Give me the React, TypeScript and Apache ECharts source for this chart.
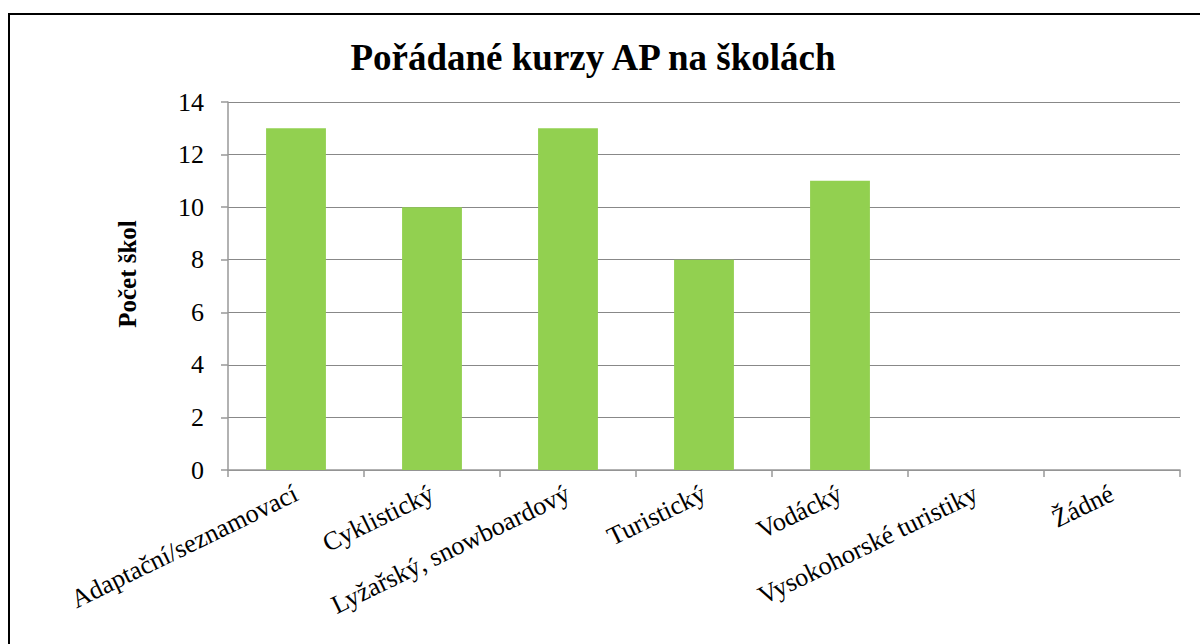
import React, { useEffect, useRef } from "react";
import * as echarts from "echarts";

const categories = [
  "Adaptační/seznamovací",
  "Cyklistický",
  "Lyžařský, snowboardový",
  "Turistický",
  "Vodácký",
  "Vysokohorské turistiky",
  "Žádné",
];
const values = [13, 10, 13, 8, 11, 0, 0];
const yTicks = { min: 0, max: 14, interval: 2 };
const titleText = "Pořádané kurzy AP na školách";
const yAxisName = "Počet škol";

const FONT = "Liberation Serif";

export default function App() {
  const ref = useRef<HTMLDivElement>(null);
  useEffect(() => {
    if (!ref.current) return;
    const chart = echarts.init(ref.current, undefined, { renderer: "svg" });
    chart.setOption({
      animation: false,
      backgroundColor: "#ffffff",
      textStyle: { fontFamily: FONT },
      title: {
        text: titleText,
        left: 588,
        top: 34,
        textAlign: "center",
        textStyle: { fontFamily: FONT, fontSize: 37, fontWeight: "bold", color: "#000" },
      },
      graphic: [
        {
          type: "rect",
          shape: { x: 9, y: 14, width: 1300, height: 700 },
          style: { fill: "none", stroke: "#000", lineWidth: 2 },
          silent: true,
        },
        {
          type: "text",
          x: 127,
          y: 274,
          rotation: Math.PI / 2,
          silent: true,
          style: {
            text: yAxisName,
            fontFamily: FONT,
            fontSize: 25,
            fontWeight: "bold",
            fill: "#000",
            align: "center",
            verticalAlign: "middle",
          },
        },
      ],
      grid: { left: 228, right: 20, top: 102, bottom: 174, containLabel: false },
      xAxis: {
        type: "category",
        data: categories,
        axisLine: { lineStyle: { color: "#999", width: 1.5 } },
        axisTick: { show: true, length: 7, lineStyle: { color: "#999", width: 1.5 } },
        axisLabel: {
          rotate: 26,
          margin: 22,
          interval: 0,
          fontFamily: FONT,
          fontSize: 26,
          color: "#000",
        },
      },
      yAxis: {
        type: "value",
        min: yTicks.min,
        max: yTicks.max,
        interval: yTicks.interval,
        axisLine: { show: true, lineStyle: { color: "#999", width: 1.5 } },
        axisTick: { show: true, length: 7, lineStyle: { color: "#999", width: 1.5 } },
        axisLabel: { margin: 24, fontFamily: FONT, fontSize: 26, color: "#000" },
        splitLine: { lineStyle: { color: "#888", width: 1.2 } },
      },
      series: [
        {
          type: "bar",
          data: values,
          barWidth: "44%",
          itemStyle: { color: "#92D050" },
        },
      ],
    });
    return () => chart.dispose();
  }, []);
  return (
    <div
      ref={ref}
      style={{ position: "absolute", left: 0, top: 0, width: 1200, height: 644, overflow: "hidden" }}
    />
  );
}
